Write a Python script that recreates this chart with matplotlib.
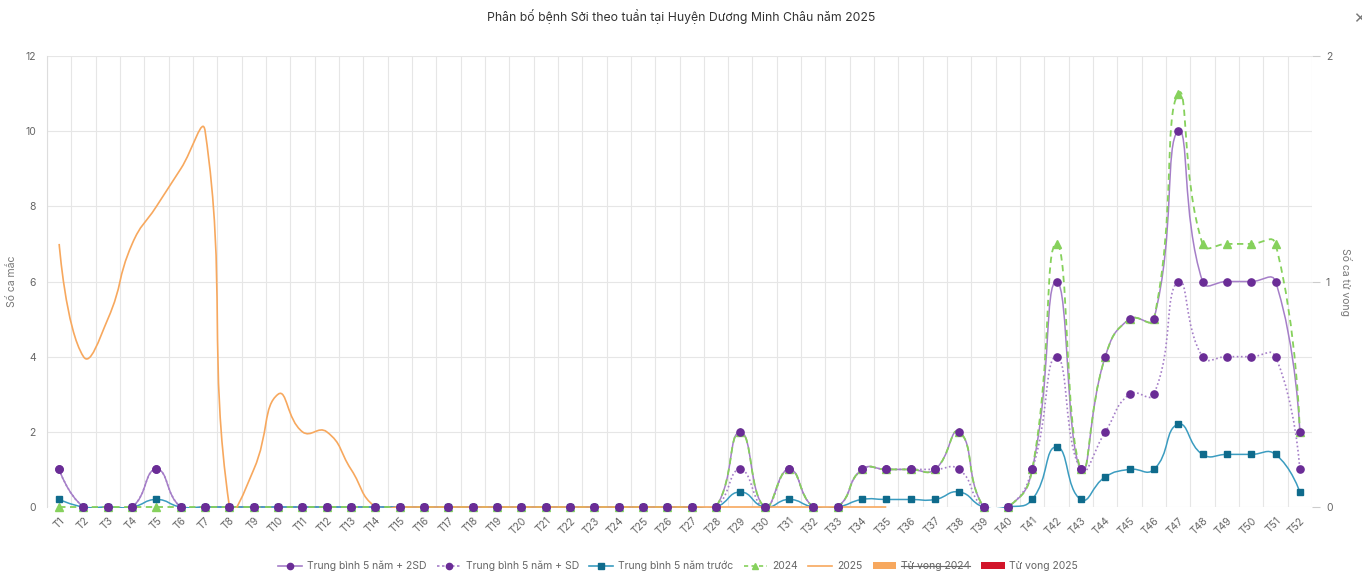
import matplotlib
matplotlib.use("Agg")
import matplotlib.pyplot as plt
from matplotlib.path import Path
from matplotlib.patches import PathPatch, Patch, Rectangle
from matplotlib.lines import Line2D
import numpy as np

plt.rcParams['font.family'] = ['Inter', 'DejaVu Sans']

weeks = [f"T{i}" for i in range(1, 53)]

mean_2sd = [1, 0, 0, 0, 1, 0, 0, 0, 0, 0, 0, 0, 0, 0, 0, 0, 0, 0, 0, 0,
            0, 0, 0, 0, 0, 0, 0, 0, 2, 0, 1, 0, 0, 1, 1, 1, 1, 2, 0, 0,
            1, 6, 1, 4, 5, 5, 10, 6, 6, 6, 6, 2]
mean_sd = [1, 0, 0, 0, 1, 0, 0, 0, 0, 0, 0, 0, 0, 0, 0, 0, 0, 0, 0, 0,
           0, 0, 0, 0, 0, 0, 0, 0, 1, 0, 1, 0, 0, 1, 1, 1, 1, 1, 0, 0,
           1, 4, 1, 2, 3, 3, 6, 4, 4, 4, 4, 1]
mean_5y = [0.2, 0, 0, 0, 0.2, 0, 0, 0, 0, 0, 0, 0, 0, 0, 0, 0, 0, 0, 0, 0,
           0, 0, 0, 0, 0, 0, 0, 0, 0.4, 0, 0.2, 0, 0, 0.2, 0.2, 0.2, 0.2, 0.4, 0, 0,
           0.2, 1.6, 0.2, 0.8, 1.0, 1.0, 2.2, 1.4, 1.4, 1.4, 1.4, 0.4]
y2024 = [0, 0, 0, 0, 0, 0, 0, 0, 0, 0, 0, 0, 0, 0, 0, 0, 0, 0, 0, 0,
         0, 0, 0, 0, 0, 0, 0, 0, 2, 0, 1, 0, 0, 1, 1, 1, 1, 2, 0, 0,
         1, 7, 1, 4, 5, 5, 11, 7, 7, 7, 7, 2]
y2025 = [7, 4, 5, 7, 8, 9, 10, 0, 1, 3, 2, 2, 1, 0, 0, 0, 0, 0, 0, 0,
         0, 0, 0, 0, 0, 0, 0, 0, 0, 0, 0, 0, 0, 0, 0]

C_2SD_LINE = '#a57ec8'
C_PURPLE = '#6a2c96'
C_TEAL_LINE = '#3b9cc0'
C_TEAL = '#0f6b8c'
C_GREEN = '#86d15c'
C_ORANGE = '#f7a85e'
C_RED = '#d2152a'

fig = plt.figure(figsize=(13.62, 5.71), dpi=100)
ax = fig.add_axes([47/1362, 64/571, 1265/1362, 451/571])
ax2 = ax.twinx()

ax.set_xlim(-0.5, 51.5)
ax.set_ylim(0, 12)
ax2.set_ylim(0, 2)

SX = 1265 / 52.0
SY = 451 / 12.0


def smooth_path(xs, ys, smooth=0.5):
    px = np.array(xs, float) * SX
    py = np.array(ys, float) * SY
    n = len(px)
    verts = [(px[0], py[0])]
    codes = [Path.MOVETO]
    cpx, cpy = px[0], py[0]
    for k in range(1, n):
        x, y = px[k], py[k]
        prevx, prevy = px[k - 1], py[k - 1]
        if k + 1 < n:
            nx, ny = px[k + 1], py[k + 1]
            vx, vy = nx - prevx, ny - prevy
            l0 = np.hypot(x - prevx, y - prevy)
            l1 = np.hypot(nx - x, ny - y)
            ratio = l1 / (l0 + l1) if (l0 + l1) > 0 else 0.5
            ncx = x - vx * smooth * (1 - ratio)
            ncy = y - vy * smooth * (1 - ratio)
        else:
            vx = vy = 0
            ratio = 0.5
            ncx, ncy = x, y
        verts += [(cpx, cpy), (ncx, ncy), (x, y)]
        codes += [Path.CURVE4] * 3
        cpx = x + vx * smooth * ratio
        cpy = y + vy * smooth * ratio
    verts = [(vx_ / SX, vy_ / SY) for vx_, vy_ in verts]
    return Path(verts, codes)


clip_rect = Rectangle((0, -0.0018), 1, 1.02, transform=ax.transAxes,
                      facecolor='none', edgecolor='none')
ax.add_patch(clip_rect)


def draw_line(vals, color, lw, ls, z):
    xs = list(range(len(vals)))
    p = PathPatch(smooth_path(xs, vals), facecolor='none', edgecolor=color,
                  lw=lw, linestyle=ls, zorder=z, capstyle='butt')
    ax.add_patch(p)
    p.set_clip_path(clip_rect)


x_all = list(range(52))
draw_line(mean_2sd, C_2SD_LINE, 1.1, '-', 2)
draw_line(mean_sd, C_2SD_LINE, 1.2, (0, (1, 1.5)), 2.1)
draw_line(mean_5y, C_TEAL_LINE, 1.1, '-', 2.2)
draw_line(y2024, C_GREEN, 1.3, (0, (3.5, 2.5)), 2.3)
draw_line(y2025, C_ORANGE, 1.2, '-', 2.4)

ax.plot(x_all, y2024, linestyle='none', marker='^', ms=5.5, color=C_GREEN,
        clip_on=False, zorder=3)
ax.plot(x_all, mean_5y, linestyle='none', marker='s', ms=4.3, color=C_TEAL,
        clip_on=False, zorder=4)
ax.plot(x_all, mean_sd, linestyle='none', marker='o', ms=5.2, color=C_PURPLE,
        clip_on=False, zorder=5)
ax.plot(x_all, mean_2sd, linestyle='none', marker='o', ms=5.2, color=C_PURPLE,
        clip_on=False, zorder=5)

# grid
ax.set_xticks([i - 0.5 for i in range(53)], minor=True)
ax.set_xticks(range(52))
ax.set_xticklabels(weeks, rotation=45, ha='right', rotation_mode='anchor',
                   fontsize=7.5, color='#666666')
ax.grid(True, which='minor', axis='x', color='#e6e6e6', lw=0.8)
ax.set_yticks(range(0, 13, 2))
ax.grid(True, which='major', axis='y', color='#e6e6e6', lw=0.8)
ax.set_axisbelow(True)
ax.tick_params(axis='x', which='both', length=0, pad=6)
ax.tick_params(axis='y', length=0, labelsize=7.5, labelcolor='#666666', pad=8)
ax2.set_yticks([0, 1, 2])
ax2.tick_params(axis='y', length=6, color='#cccccc', labelsize=7.5,
                labelcolor='#666666', pad=4)
for a in (ax, ax2):
    for s in ('top', 'bottom', 'right', 'left'):
        a.spines[s].set_visible(False)
ax.spines['left'].set_visible(True)
ax.spines['left'].set_color('#dddddd')
ax.spines['left'].set_linewidth(0.8)

ax.set_ylabel('Số ca mắc', fontsize=7.5, color='#777777')
ax2.set_ylabel('Số ca tử vong', fontsize=7.5, color='#777777', rotation=-90,
               va='center')
ax.yaxis.set_label_coords(-0.0275, 0.5)
ax2.yaxis.set_label_coords(1.0265, 0.5)
ax.yaxis.label.set_va('center')

fig.text(0.5, 1 - 16/571, 'Phân bố bệnh Sởi theo tuần tại Huyện Dương Minh Châu năm 2025',
         ha='center', va='center', fontsize=8.8, color='#333333')
fig.text(1353/1362, 1 - 19/571, '✕', ha='left', va='center', fontsize=11,
         color='#777777', family=['DejaVu Sans'])

handles = [
    Line2D([], [], color=C_2SD_LINE, lw=1.2, marker='o', ms=4.5,
           markerfacecolor=C_PURPLE, markeredgecolor=C_PURPLE),
    Line2D([], [], color=C_2SD_LINE, lw=1.2, ls=(0, (1.5, 1.5)), marker='o', ms=4.5,
           markerfacecolor=C_PURPLE, markeredgecolor=C_PURPLE),
    Line2D([], [], color=C_TEAL_LINE, lw=1.2, marker='s', ms=4,
           markerfacecolor=C_TEAL, markeredgecolor=C_TEAL),
    Line2D([], [], color=C_GREEN, lw=1.2, ls=(0, (2.5, 2)), marker='^', ms=4.5,
           markerfacecolor=C_GREEN, markeredgecolor=C_GREEN),
    Line2D([], [], color=C_ORANGE, lw=1.2),
    Patch(facecolor=C_ORANGE, edgecolor='none'),
    Patch(facecolor=C_RED, edgecolor='none'),
]
labels = ['Trung bình 5 năm + 2SD', 'Trung bình 5 năm + SD', 'Trung bình 5 năm trước',
          '2024', '2025', 'Tử vong 2024', 'Tử vong 2025']
leg = fig.legend(handles, labels, loc='center', bbox_to_anchor=(0.498, 1 - 566/571),
                 ncol=7, frameon=False, fontsize=7.5, handlelength=2.3,
                 handleheight=0.7, handletextpad=0.45, columnspacing=1.0,
                 borderaxespad=0)
for t in leg.get_texts():
    t.set_color('#666666')

fig.canvas.draw()
r = fig.canvas.get_renderer()
t = leg.get_texts()[5]
bb = t.get_window_extent(r).transformed(fig.transFigure.inverted())
ym = (bb.y0 + bb.y1) / 2
fig.add_artist(Line2D([bb.x0, bb.x1], [ym, ym], transform=fig.transFigure,
                      color='#666666', lw=0.8))

fig.savefig('out.png', dpi=100)
